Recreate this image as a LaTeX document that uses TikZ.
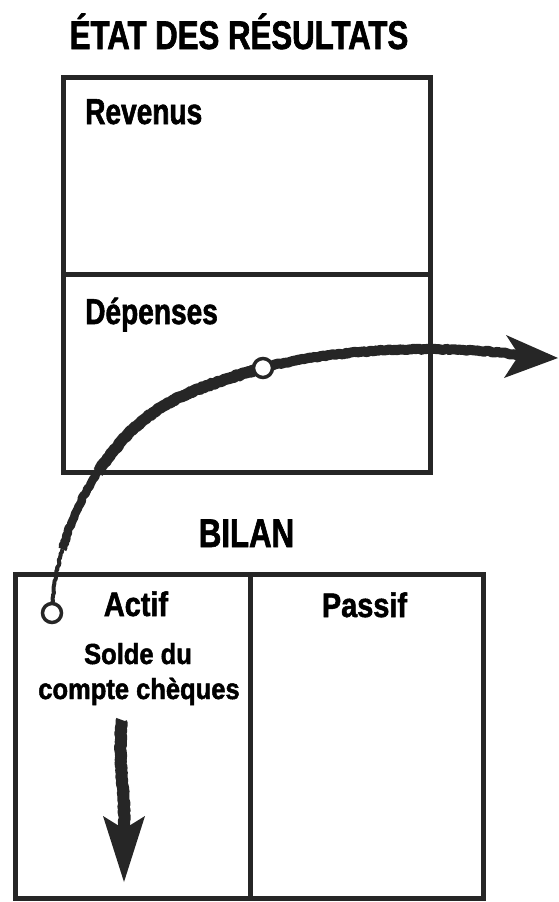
\documentclass[tikz,border=0pt]{standalone}
\usepackage{fontspec}
\usetikzlibrary{decorations.pathmorphing}
\newfontfamily\fhead{Liberation Sans}[FakeStretch=0.78, BoldFeatures={FakeBold=1.6}]
\newfontfamily\flab{Liberation Sans}[FakeStretch=0.78, BoldFeatures={FakeBold=1.6}]
\newfontfamily\fcol{Liberation Sans}[FakeStretch=0.85, BoldFeatures={FakeBold=1.6}]
\newfontfamily\fsmall{Liberation Sans}[FakeStretch=0.88, BoldFeatures={FakeBold=1.6}]
\definecolor{ink}{HTML}{262626}
\begin{document}
\begin{tikzpicture}[x=1pt,y=-1pt,
  boxline/.style={draw=ink, line width=5pt},
  headtxt/.style={font=\fhead\bfseries\fontsize{40}{40}\selectfont, inner sep=0pt, text=black},
  labtxt/.style={font=\flab\bfseries\fontsize{36}{36}\selectfont, inner sep=0pt, text=black},
  coltxt/.style={font=\fcol\bfseries\fontsize{34}{34}\selectfont, inner sep=0pt, text=black},
  smalltxt/.style={font=\fsmall\bfseries\fontsize{29}{29}\selectfont, inner sep=0pt, text=black},
  dot/.style={circle, draw=ink, fill=white, line width=3.5pt, minimum size=19pt, inner sep=0pt},
  brush/.style={draw=ink, line join=round, decorate,
    decoration={random steps, segment length=2pt, amplitude=0.7pt}},
  tiphead/.style={fill=ink},
]
\pgfmathsetseed{7}
\useasboundingbox (0,0) rectangle (558,902);

% boxes
\draw[boxline] (63,77) rectangle (430,472);
\draw[boxline] (63,274) -- (430,274);
\draw[boxline] (15,574) rectangle (483,898);
\draw[boxline] (250,574) -- (250,898);

% texts
\node[headtxt, anchor=base] (title) at (239,49) {ÉTAT DES RÉSULTATS};
\node[labtxt, anchor=base west] (rev) at (85,124) {Revenus};
\node[labtxt, anchor=base west] (dep) at (85,324) {Dépenses};
\node[headtxt, anchor=base] (bilan) at (246.5,547) {BILAN};
\node[coltxt, anchor=base] (actif) at (136,616) {Actif};
\node[coltxt, anchor=base] (passif) at (364.5,617) {Passif};
\node[smalltxt, anchor=base] (solde1) at (138,664) {Solde du};
\node[smalltxt, anchor=base] (solde2) at (139,699) {compte chèques};

% key points
\coordinate (p1) at (52,613);
\coordinate (s1) at (62.4,549.3);
\coordinate (k1) at (98,472);
\coordinate (p2) at (263,368);
\coordinate (n1) at (519,355);
\coordinate (tip1) at (558,358);
\coordinate (d0) at (122,720);
\coordinate (n2) at (124,829);
\coordinate (tip2) at (124,882);

% curved connector (brush stroke)
\draw[brush, line width=4pt] (p1) .. controls (52.8,590) and (56.6,569.2) .. (s1);
\draw[brush, line width=8.5pt] (s1) .. controls (71.1,519.5) and (84.2,491.8) .. (k1);
\draw[brush, line width=11.5pt] (k1) .. controls (137,416) and (164,396) .. (p2);
\draw[brush, line width=10pt] (p2) .. controls (340,347) and (450,345) .. (n1);
\fill[tiphead] (tip1) -- (506,335) -- (n1) -- (504,378) -- cycle;

\node[dot] (c1) at (p1) {};
\node[dot] (c2) at (p2) {};

% downward arrow
\draw[brush, line width=12pt] (d0) .. controls (117,765) and (126,790) .. (n2);
\fill[tiphead] (tip2) -- (103,816) -- (n2) -- (145,816) -- cycle;
\end{tikzpicture}
\end{document}
